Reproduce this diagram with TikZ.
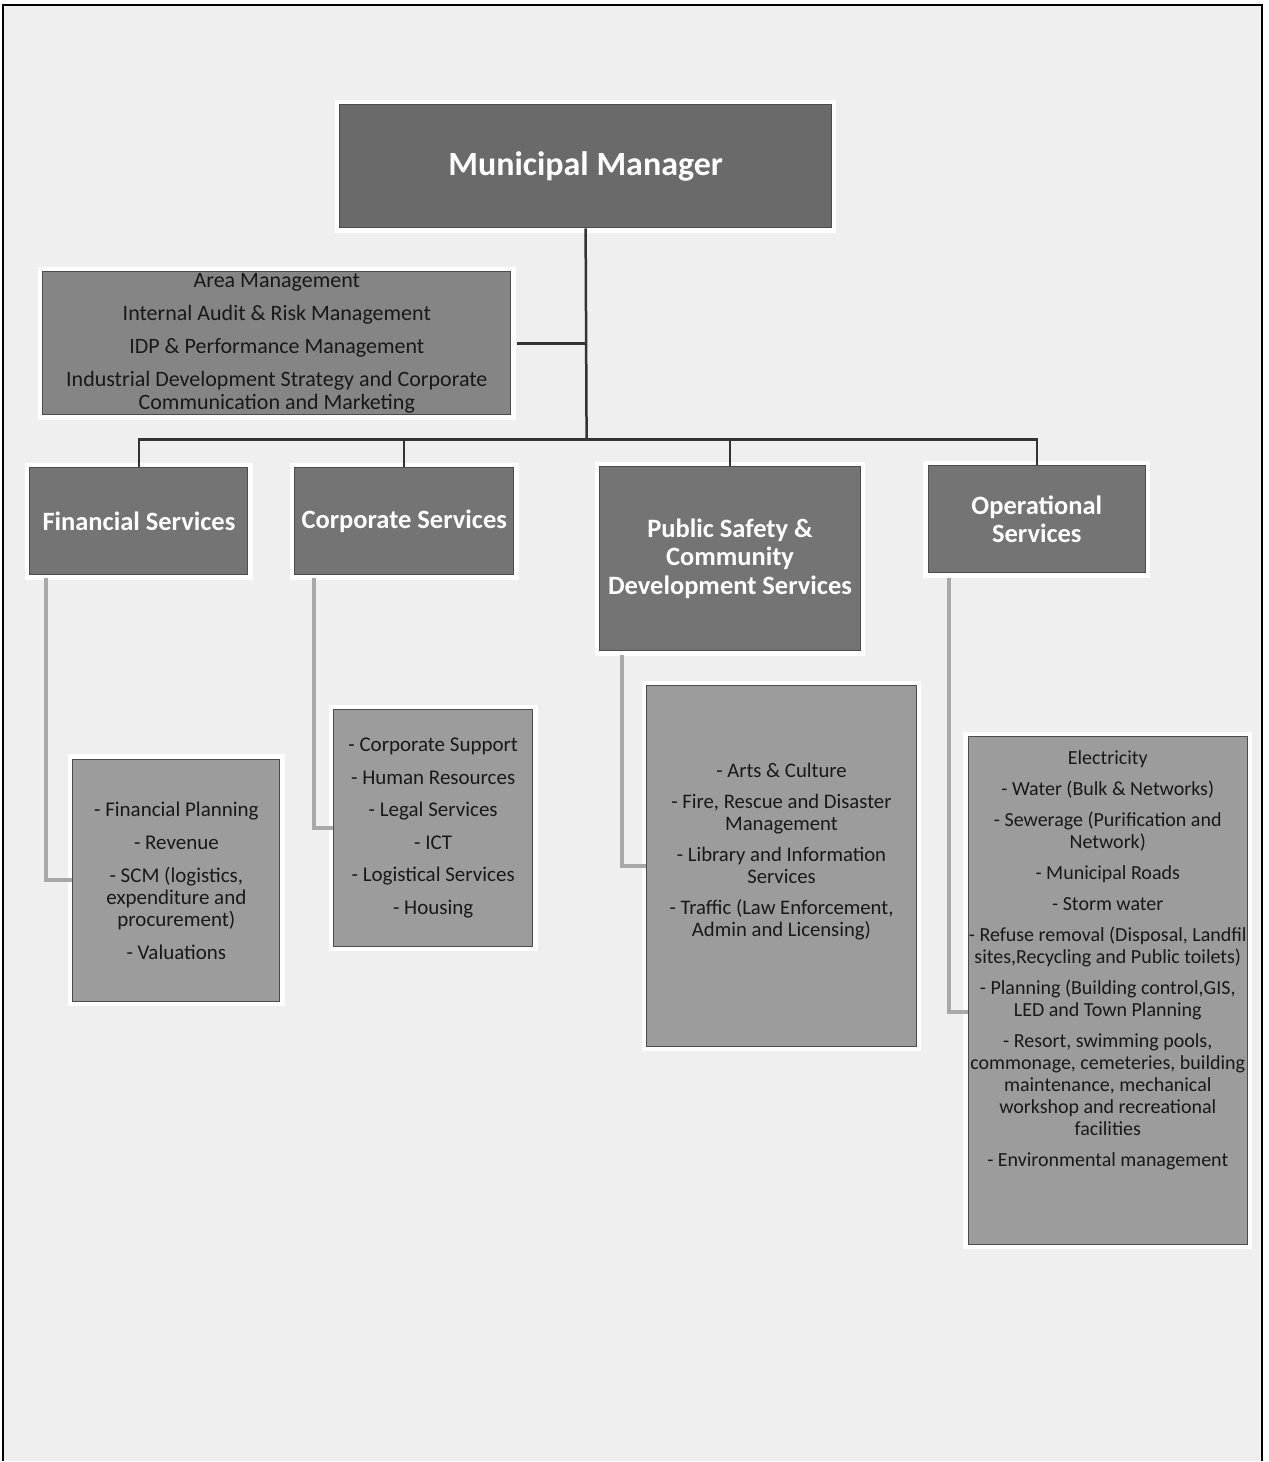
\documentclass[tikz,border=0pt]{standalone}
\usepackage{fontspec}
\setmainfont{Carlito}
\definecolor{mmfill}{HTML}{6A6A6A}
\definecolor{deptfill}{HTML}{747474}
\definecolor{staffill}{HTML}{858585}
\definecolor{subfill}{HTML}{9C9C9C}
\definecolor{pagebg}{HTML}{EFEFEF}
\definecolor{subline}{HTML}{A8A8A8}
\tikzset{
  orgbox/.style={rectangle, draw=black!70, line width=1pt, inner sep=0pt, align=center,
    preaction={draw=white, line width=10pt}},
  headbox/.style={orgbox, fill=mmfill, text=white,
    font=\bfseries\fontsize{34}{38}\selectfont},
  deptbox/.style={orgbox, fill=deptfill, text=white,
    font=\bfseries\fontsize{26.5}{28.5}\selectfont},
  staffbox/.style={orgbox, fill=staffill, text=black!90,
    font=\fontsize{22}{23}\selectfont},
  subbox/.style={orgbox, fill=subfill, text=black!90,
    font=\fontsize{21}{22}\selectfont},
  subtext/.style={inner sep=0pt, align=center, text=black!90},
  mainlink/.style={draw=black!80, line width=2.5pt},
  sublink/.style={draw=subline, line width=4pt},
}
\begin{document}
\begin{tikzpicture}[x=1pt, y=-1pt]
  % page and frame
  \fill[white] (0,0) rectangle (1269,1462);
  \fill[pagebg] (3,5) rectangle (1263,1462);
  \draw[line width=2pt] (3,1462) -- (3,5) -- (1263,5) -- (1263,1462);

  % top level
  \node[headbox, minimum width=492pt, minimum height=123pt] (mm) at (586,166.5) {Municipal Manager};
  \node[staffbox, minimum width=468pt, minimum height=143pt] (staff) at (277,343.5)
    {Area Management\\[10pt] Internal Audit \& Risk Management\\[10pt] IDP \& Performance Management\\[10pt]
     Industrial Development Strategy  and Corporate\\ Communication and Marketing};

  % departments
  \node[deptbox, minimum width=218pt, minimum height=107pt] (fin) at (139,521.5) {Financial Services};
  \node[deptbox, minimum width=219pt, minimum height=107pt] (corp) at (404.5,521.5) {Corporate Services};
  \node[deptbox, minimum width=261pt, minimum height=184pt] (ps) at (730.5,559)
    {Public Safety \&\\ Community\\ Development Services};
  \node[deptbox, minimum width=217pt, minimum height=107pt] (ops) at (1037.5,519.5) {Operational\\ Services};

  % sections of each department
  \node[subbox, minimum width=207pt, minimum height=242pt] (finsub) at (176.5,881)
    {- Financial Planning\\[11pt] - Revenue\\[11pt] - SCM (logistics,\\ expenditure and\\ procurement)\\[11pt] - Valuations};
  \node[subbox, minimum width=199pt, minimum height=237pt] (corpsub) at (433.5,828.5)
    {- Corporate Support\\[10.5pt] - Human Resources\\[10.5pt] - Legal Services\\[10.5pt] - ICT\\[10.5pt]
     - Logistical Services\\[10.5pt] - Housing};
  \node[subbox, minimum width=270pt, minimum height=361pt] (pssub) at (782,866.5) {};
  \node[subtext, font=\fontsize{20.7}{22}\selectfont] (pstext) at (782,852)
    {- Arts \& Culture\\[9pt] - Fire, Rescue and Disaster\\ Management\\[9pt] - Library and  Information\\ Services\\[9pt]
     - Traffic (Law Enforcement,\\ Admin and Licensing)};
  \node[subbox, minimum width=279pt, minimum height=508pt] (opssub) at (1108.5,991) {};
  \node[subtext, font=\fontsize{20}{22}\selectfont] (opstext) at (1108.5,961)
    {Electricity\\[9pt] - Water (Bulk \& Networks)\\[9pt] - Sewerage (Purification and\\ Network)\\[9pt]
     - Municipal Roads\\[9pt] - Storm water\\[9pt] - Refuse removal (Disposal, Landfil\\ sites,Recycling and Public toilets)\\[9pt]
     - Planning (Building control,GIS,\\ LED and Town Planning\\[9pt]
     - Resort, swimming pools,\\ commonage, cemeteries, building\\ maintenance, mechanical\\ workshop and recreational\\ facilities\\[9pt]
     - Environmental management};

  % reporting lines
  \coordinate (bus) at (587,440);
  \draw[mainlink] (mm.south) -- (bus);
  \draw[mainlink] ([xshift=6pt]staff.east) -- (staff.east -| mm.south);
  \draw[mainlink] (fin.north) |- (bus) -| (ops.north);
  \draw[mainlink] (corp.north) -- (corp.north |- bus);
  \draw[mainlink] (ps.north) -- (ps.north |- bus);

  % department to section lines
  \draw[sublink] ([xshift=17pt, yshift=-3pt]fin.south west) |- (finsub.west);
  \draw[sublink] ([xshift=20pt, yshift=-3pt]corp.south west) |- (corpsub.west);
  \draw[sublink] ([xshift=23pt, yshift=-4pt]ps.south west) |- (pssub.west);
  \coordinate (opsin) at ([yshift=-22pt]opssub.west);
  \draw[sublink] ([xshift=21pt, yshift=-5pt]ops.south west) |- (opsin);
\end{tikzpicture}
\end{document}
